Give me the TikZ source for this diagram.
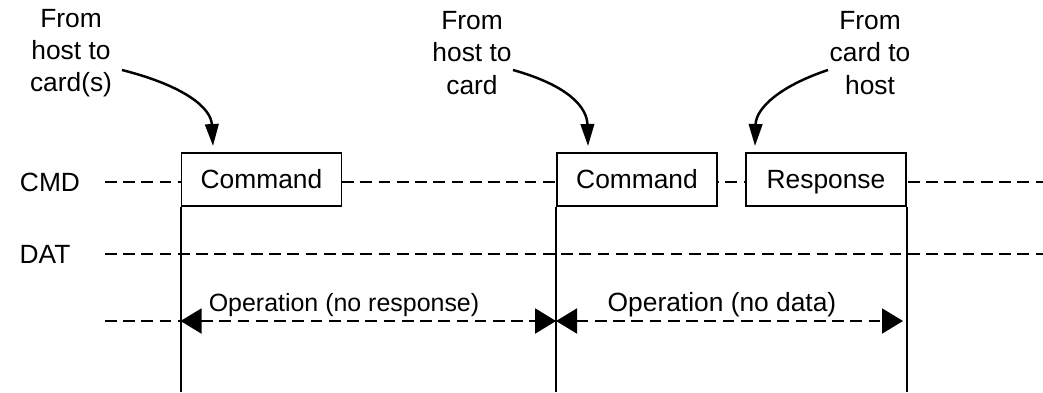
\documentclass[tikz,border=0pt]{standalone}
\usepackage{fontspec}
\setmainfont{Liberation Sans}
\usetikzlibrary{arrows.meta}
\begin{document}
\begin{tikzpicture}[x=0.02cm,y=-0.02cm,
  txt/.style={font=\fontsize{15}{18.4}\selectfont, inner sep=0pt, align=center},
  sigbox/.style={draw, line width=1.1pt, fill=white, minimum width=3.2cm, minimum height=1.06cm, font=\fontsize{15}{18}\selectfont, inner sep=0pt, text height=0.44cm, text depth=0.1cm},
  dline/.style={line width=1.15pt, dash pattern=on 0.235cm off 0.13cm},
  vline/.style={line width=1.1pt},
  curv/.style={line width=1.4pt, -{Triangle[length=0.44cm,width=0.27cm]}},
  oparr/.style={dline, {Triangle[length=0.42cm,width=0.5cm]}-{Triangle[length=0.42cm,width=0.5cm]}}
]
\useasboundingbox (0,0) rectangle (1043,392);
% labels
\node[txt] (cmd) at (50,182) {CMD};
\node[txt] (dat) at (45,254) {DAT};
% dashed lines
\coordinate (c0) at (105,182); \coordinate (c1) at (1043,182);
\coordinate (d0) at (105,254); \coordinate (d1) at (1043,254);
\draw[dline] (c0) -- (c1);
\draw[dline] (d0) -- (d1);
% boxes
\node[sigbox] (b1) at (261.5,179.5) {Command};
\node[sigbox] (b2) at (637,179.5) {Command};
\node[sigbox] (b3) at (826,179.5) {Response};
% vertical lines
\coordinate (v1) at (181,392); \coordinate (v2) at (557,392); \coordinate (v3) at (906,392);
\draw[vline] (b1.south west) -- (b1.south west |- v1);
\draw[vline] (b2.south west) -- (b2.south west |- v2);
\draw[vline] (b3.south east) -- (b3.south east |- v3);
% operation row
\coordinate (o0) at (105,321);
\coordinate (o1) at (b1.south west |- o0);
\coordinate (o2) at (b2.south west |- o0);
\coordinate (o3) at (903,321);
\draw[dline] (o0) -- (o1);
\draw[oparr] (o1) -- (o2);
\draw[oparr] (o2) -- (o3);
\node[txt, font=\fontsize{14.2}{18}\selectfont] (op1) at (344,305) {Operation (no response)};
\node[txt] (op2) at (722,305) {Operation (no data)};
% top texts
\node[txt] (t1) at (71,53) {From\\host to\\card(s)};
\node[txt] (t2) at (472,53) {From\\host to\\card};
\node[txt] (t3) at (870,53) {From\\card to\\host};
\coordinate (s1) at (122,70); \coordinate (e1) at (213,146);
\coordinate (s2) at (513,70); \coordinate (e2) at (588,146);
\coordinate (s3) at (828,70); \coordinate (e3) at (755,146);
\draw[curv] (s1) .. controls (185,86) and (211,108) .. (e1);
\draw[curv] (s2) .. controls (570,86) and (587,108) .. (e2);
\draw[curv] (s3) .. controls (780,86) and (756,108) .. (e3);
\end{tikzpicture}
\end{document}
